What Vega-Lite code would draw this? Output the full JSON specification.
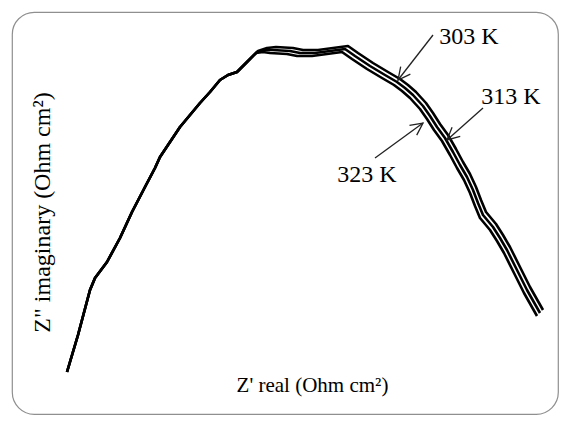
{
  "$schema": "https://vega.github.io/schema/vega-lite/v6.json",
  "width": 546,
  "height": 402,
  "autosize": {"type": "none"},
  "padding": {"left": 12, "top": 12, "right": 7, "bottom": 11},
  "background": "white",
  "config": {
    "view": {"stroke": "#8f8f8f", "strokeWidth": 1.2, "cornerRadius": 22},
    "font": "Liberation Serif",
    "axis": {"domain": false, "ticks": false, "labels": false, "grid": false, "titleFont": "Liberation Serif", "titleFontWeight": "normal", "titleColor": "black"}
  },
  "datasets": {
    "curves": [
      {"T":"313 K","i":1,"x":67,"y":42},{"T":"313 K","i":2,"x":78,"y":79},{"T":"313 K","i":3,"x":90,"y":124},{"T":"313 K","i":4,"x":95,"y":136},{"T":"313 K","i":5,"x":107,"y":152},{"T":"313 K","i":6,"x":120,"y":176},{"T":"313 K","i":7,"x":132,"y":202},{"T":"313 K","i":8,"x":145,"y":227},{"T":"313 K","i":9,"x":155,"y":246},{"T":"313 K","i":10,"x":160,"y":257},{"T":"313 K","i":11,"x":170,"y":272},{"T":"313 K","i":12,"x":180,"y":287},{"T":"313 K","i":13,"x":190,"y":299},{"T":"313 K","i":14,"x":200,"y":311},{"T":"313 K","i":15,"x":210,"y":322},{"T":"313 K","i":16,"x":220,"y":334},{"T":"313 K","i":17,"x":228,"y":339},{"T":"313 K","i":18,"x":237,"y":342},{"T":"313 K","i":19,"x":247,"y":352},{"T":"313 K","i":20,"x":257,"y":362},{"T":"313 K","i":21,"x":265,"y":364},{"T":"313 K","i":22,"x":273,"y":364},{"T":"313 K","i":23,"x":290,"y":363},{"T":"313 K","i":24,"x":300,"y":361},{"T":"313 K","i":25,"x":315,"y":361},{"T":"313 K","i":26,"x":330,"y":363},{"T":"313 K","i":27,"x":345,"y":365},{"T":"313 K","i":28,"x":355,"y":358},{"T":"313 K","i":29,"x":370,"y":348},{"T":"313 K","i":30,"x":385,"y":339},{"T":"313 K","i":31,"x":397,"y":332},{"T":"313 K","i":32,"x":405,"y":326},{"T":"313 K","i":33,"x":413,"y":319},{"T":"313 K","i":34,"x":423,"y":308},{"T":"313 K","i":35,"x":430,"y":298},{"T":"313 K","i":36,"x":437,"y":287},{"T":"313 K","i":37,"x":445,"y":276},{"T":"313 K","i":38,"x":453,"y":262},{"T":"313 K","i":39,"x":460,"y":249},{"T":"313 K","i":40,"x":467,"y":237},{"T":"313 K","i":41,"x":473,"y":224},{"T":"313 K","i":42,"x":478,"y":211},{"T":"313 K","i":43,"x":483,"y":199},{"T":"313 K","i":44,"x":493,"y":187},{"T":"313 K","i":45,"x":500,"y":176},{"T":"313 K","i":46,"x":507,"y":164},{"T":"313 K","i":47,"x":517,"y":144},{"T":"313 K","i":48,"x":527,"y":124},{"T":"313 K","i":49,"x":540,"y":101},
      {"T":"303 K","i":1,"x":67,"y":42},{"T":"303 K","i":2,"x":78,"y":79},{"T":"303 K","i":3,"x":90,"y":124},{"T":"303 K","i":4,"x":95,"y":136},{"T":"303 K","i":5,"x":107,"y":152},{"T":"303 K","i":6,"x":120,"y":176},{"T":"303 K","i":7,"x":132,"y":202},{"T":"303 K","i":8,"x":145,"y":227},{"T":"303 K","i":9,"x":155,"y":246},{"T":"303 K","i":10,"x":160,"y":257},{"T":"303 K","i":11,"x":170,"y":272},{"T":"303 K","i":12,"x":180,"y":287},{"T":"303 K","i":13,"x":190,"y":299},{"T":"303 K","i":14,"x":200,"y":311},{"T":"303 K","i":15,"x":210,"y":322},{"T":"303 K","i":16,"x":220,"y":334},{"T":"303 K","i":17,"x":228,"y":339},{"T":"303 K","i":18,"x":237,"y":342},{"T":"303 K","i":19,"x":247,"y":352},{"T":"303 K","i":20,"x":258,"y":363},{"T":"303 K","i":21,"x":267,"y":366},{"T":"303 K","i":22,"x":276,"y":367},{"T":"303 K","i":23,"x":293,"y":366},{"T":"303 K","i":24,"x":303,"y":364},{"T":"303 K","i":25,"x":318,"y":364},{"T":"303 K","i":26,"x":333,"y":366},{"T":"303 K","i":27,"x":348,"y":368},{"T":"303 K","i":28,"x":358,"y":361},{"T":"303 K","i":29,"x":373,"y":351},{"T":"303 K","i":30,"x":388,"y":342},{"T":"303 K","i":31,"x":400,"y":335},{"T":"303 K","i":32,"x":408,"y":329},{"T":"303 K","i":33,"x":416,"y":322},{"T":"303 K","i":34,"x":426,"y":311},{"T":"303 K","i":35,"x":433,"y":301},{"T":"303 K","i":36,"x":440,"y":290},{"T":"303 K","i":37,"x":448,"y":279},{"T":"303 K","i":38,"x":456,"y":265},{"T":"303 K","i":39,"x":463,"y":252},{"T":"303 K","i":40,"x":470,"y":240},{"T":"303 K","i":41,"x":476,"y":227},{"T":"303 K","i":42,"x":481,"y":214},{"T":"303 K","i":43,"x":486,"y":202},{"T":"303 K","i":44,"x":496,"y":190},{"T":"303 K","i":45,"x":503,"y":179},{"T":"303 K","i":46,"x":510,"y":167},{"T":"303 K","i":47,"x":520,"y":147},{"T":"303 K","i":48,"x":530,"y":127},{"T":"303 K","i":49,"x":543,"y":104},
      {"T":"323 K","i":1,"x":67,"y":42},{"T":"323 K","i":2,"x":78,"y":79},{"T":"323 K","i":3,"x":90,"y":124},{"T":"323 K","i":4,"x":95,"y":136},{"T":"323 K","i":5,"x":107,"y":152},{"T":"323 K","i":6,"x":120,"y":176},{"T":"323 K","i":7,"x":132,"y":202},{"T":"323 K","i":8,"x":145,"y":227},{"T":"323 K","i":9,"x":155,"y":246},{"T":"323 K","i":10,"x":160,"y":257},{"T":"323 K","i":11,"x":170,"y":272},{"T":"323 K","i":12,"x":180,"y":287},{"T":"323 K","i":13,"x":190,"y":299},{"T":"323 K","i":14,"x":200,"y":311},{"T":"323 K","i":15,"x":210,"y":322},{"T":"323 K","i":16,"x":220,"y":334},{"T":"323 K","i":17,"x":228,"y":339},{"T":"323 K","i":18,"x":237,"y":342},{"T":"323 K","i":19,"x":247,"y":352},{"T":"323 K","i":20,"x":256,"y":361},{"T":"323 K","i":21,"x":263,"y":362},{"T":"323 K","i":22,"x":270,"y":361},{"T":"323 K","i":23,"x":287,"y":360},{"T":"323 K","i":24,"x":297,"y":358},{"T":"323 K","i":25,"x":312,"y":358},{"T":"323 K","i":26,"x":327,"y":360},{"T":"323 K","i":27,"x":342,"y":362},{"T":"323 K","i":28,"x":352,"y":355},{"T":"323 K","i":29,"x":367,"y":345},{"T":"323 K","i":30,"x":382,"y":336},{"T":"323 K","i":31,"x":394,"y":329},{"T":"323 K","i":32,"x":402,"y":323},{"T":"323 K","i":33,"x":410,"y":316},{"T":"323 K","i":34,"x":420,"y":305},{"T":"323 K","i":35,"x":427,"y":295},{"T":"323 K","i":36,"x":434,"y":284},{"T":"323 K","i":37,"x":442,"y":273},{"T":"323 K","i":38,"x":450,"y":259},{"T":"323 K","i":39,"x":457,"y":246},{"T":"323 K","i":40,"x":464,"y":234},{"T":"323 K","i":41,"x":470,"y":221},{"T":"323 K","i":42,"x":475,"y":208},{"T":"323 K","i":43,"x":480,"y":196},{"T":"323 K","i":44,"x":490,"y":184},{"T":"323 K","i":45,"x":497,"y":173},{"T":"323 K","i":46,"x":504,"y":161},{"T":"323 K","i":47,"x":514,"y":141},{"T":"323 K","i":48,"x":524,"y":121},{"T":"323 K","i":49,"x":537,"y":98}
    ],
    "arrows": [
      {"label": "303 K", "x1": 433, "y1": 379, "x2": 398, "y2": 334},
      {"label": "313 K", "x1": 483, "y1": 306, "x2": 447, "y2": 274},
      {"label": "323 K", "x1": 375, "y1": 256, "x2": 423, "y2": 291}
    ],
    "labels": [
      {"label": "303 K", "x": 469, "y": 377},
      {"label": "313 K", "x": 511, "y": 317},
      {"label": "323 K", "x": 367, "y": 239}
    ]
  },
  "layer": [
    {
      "data": {"name": "curves"},
      "mark": {"type": "line", "color": "black", "strokeWidth": 2.6, "strokeJoin": "round"},
      "encoding": {
        "x": {"field": "x", "type": "quantitative", "scale": {"domain": [12, 558], "nice": false, "zero": false},
              "axis": {"title": "Z' real (Ohm  cm²)", "titleX": 300, "titleY": -29, "titleAlign": "center", "titleBaseline": "middle", "titleAngle": 0, "titleFontSize": 21}},
        "y": {"field": "y", "type": "quantitative", "scale": {"domain": [0, 402], "nice": false, "zero": false},
              "axis": {"title": "Z\" imaginary (Ohm  cm²)", "titleX": 30, "titleY": 200, "titleAlign": "center", "titleBaseline": "middle", "titleAngle": -90, "titleFontSize": 24}},
        "detail": {"field": "T"},
        "order": {"field": "i", "type": "quantitative"}
      }
    },
    {
      "data": {"name": "arrows"},
      "mark": {"type": "rule", "color": "#222222", "strokeWidth": 1.3},
      "encoding": {
        "x": {"field": "x1", "type": "quantitative", "scale": {"domain": [12, 558], "nice": false, "zero": false}},
        "y": {"field": "y1", "type": "quantitative", "scale": {"domain": [0, 402], "nice": false, "zero": false}},
        "x2": {"field": "x2"},
        "y2": {"field": "y2"}
      }
    },
    {
      "data": {"name": "arrows"},
      "transform": [{"calculate": "atan2(-(datum.y2 - datum.y1), datum.x2 - datum.x1) * 180 / PI", "as": "ang"}],
      "mark": {"type": "point", "shape": "M-1,-0.5L0,0L-1,0.5", "filled": false, "stroke": "#222222", "strokeWidth": 1.3, "size": 600, "opacity": 1},
      "encoding": {
        "x": {"field": "x2", "type": "quantitative", "scale": {"domain": [12, 558], "nice": false, "zero": false}},
        "y": {"field": "y2", "type": "quantitative", "scale": {"domain": [0, 402], "nice": false, "zero": false}},
        "angle": {"field": "ang", "type": "quantitative", "scale": null}
      }
    },
    {
      "data": {"name": "labels"},
      "mark": {"type": "text", "fontSize": 24, "font": "Liberation Serif", "color": "black", "align": "center", "baseline": "middle"},
      "encoding": {
        "x": {"field": "x", "type": "quantitative", "scale": {"domain": [12, 558], "nice": false, "zero": false}},
        "y": {"field": "y", "type": "quantitative", "scale": {"domain": [0, 402], "nice": false, "zero": false}},
        "text": {"field": "label"}
      }
    }
  ]
}
